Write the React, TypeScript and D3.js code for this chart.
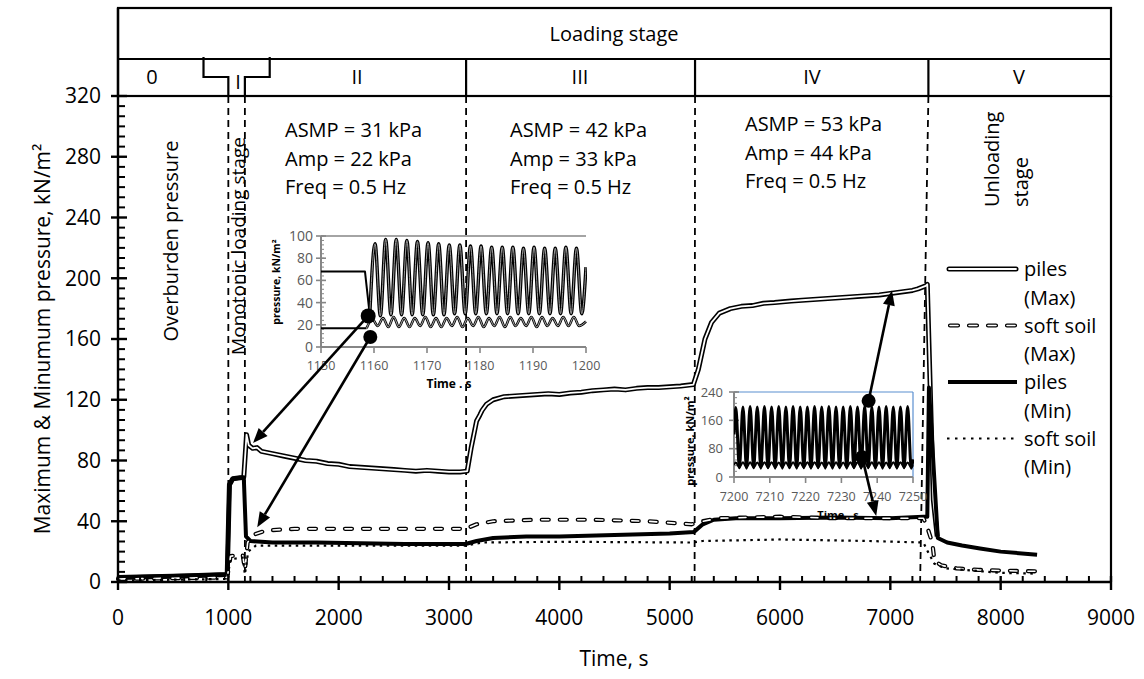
import React from "react";
import * as d3 from "d3";

type Pt = [number, number];

const FONT = "'Open Sans', 'Noto Sans', sans-serif";

// Main axes
const timeTicks = [0, 1000, 2000, 3000, 4000, 5000, 6000, 7000, 8000, 9000];
const pressureTicks = [0, 40, 80, 120, 160, 200, 240, 280, 320];

// Measured pressure histories: [time (s), pressure (kN/m²)]
const pilesMax: Pt[] = [
  [0, 3], [300, 3.5], [600, 4], [990, 5], [1010, 64], [1040, 68], [1140, 69], [1165, 97],
  [1185, 90], [1220, 88], [1260, 88.5], [1300, 86], [1400, 84.5], [1500, 83], [1600, 81.5],
  [1700, 80], [1800, 79.5], [1900, 78], [2000, 77.5], [2100, 76], [2200, 75.5], [2300, 75],
  [2400, 74.5], [2500, 74], [2600, 73.5], [2700, 73], [2800, 73.5], [2900, 73], [3000, 72.5],
  [3100, 72.5], [3165, 73], [3200, 88], [3250, 106], [3280, 110], [3300, 113], [3340, 117],
  [3400, 120], [3500, 122], [3600, 122.5], [3700, 123], [3800, 123.5], [3900, 124],
  [4000, 123.5], [4100, 124.5], [4200, 125], [4300, 126], [4400, 126.5], [4500, 127],
  [4600, 126.5], [4700, 127.5], [4800, 128], [4900, 128], [5000, 128.5], [5100, 129],
  [5215, 130], [5260, 140], [5320, 160], [5380, 171], [5450, 177], [5550, 180], [5650, 181.5],
  [5750, 182], [5850, 183.5], [5950, 184], [6100, 185], [6200, 185.5], [6300, 186],
  [6400, 186.5], [6500, 187], [6600, 187.5], [6700, 188], [6800, 188.5], [6900, 189],
  [7000, 190], [7100, 191], [7200, 192], [7250, 193], [7320, 195], [7335, 196],
  [7390, 54], [7425, 30],
];
const softSoilMax: Pt[] = [
  [0, 2], [500, 2.5], [990, 3], [1020, 17], [1130, 18], [1150, 8], [1175, 26], [1220, 31],
  [1350, 34], [1600, 35], [2000, 35], [2500, 35], [3000, 35], [3150, 35], [3250, 38],
  [3400, 40], [3800, 41], [4300, 41], [4800, 40], [5200, 38], [5300, 40], [5450, 42],
  [6000, 43], [6500, 42], [7000, 42], [7300, 42], [7335, 36], [7380, 26], [7400, 14],
  [7460, 11], [7600, 9], [7800, 8], [8000, 7.5], [8330, 7],
];
const pilesMin: Pt[] = [
  [0, 3], [500, 4], [990, 5], [1010, 64], [1040, 68], [1140, 69], [1160, 30], [1200, 27],
  [1400, 26], [1800, 26], [2200, 25.5], [2600, 25], [3150, 25], [3250, 27], [3400, 29],
  [3700, 30], [4000, 30], [4500, 31], [5000, 32], [5220, 33], [5300, 38], [5400, 41],
  [5600, 42], [6000, 42], [6500, 42.5], [7000, 42], [7300, 43], [7335, 43], [7350, 128],
  [7430, 29], [7515, 26], [7650, 24], [7813, 22], [8000, 20], [8330, 18],
];
const softSoilMin: Pt[] = [
  [0, 1], [500, 1.5], [990, 2], [1020, 15], [1130, 16], [1150, 5], [1180, 20], [1250, 24],
  [2000, 24], [3150, 24], [3300, 26], [4000, 26.5], [5200, 26], [5300, 27], [6000, 28],
  [6800, 27], [7300, 26], [7340, 20], [7400, 12], [7500, 9], [8000, 6], [8330, 5.5],
];

// Test stages
const stageNames = ["0", "I", "II", "III", "IV", "V"];
const stageNameTimes = [308, 1088, 2166, 4187, 6290, 8166];
const stageDividers = [3155, 5230, 7345];
const guideTop = [1000, 1150, 3155, 5230, 7345];
const guideBottom = [1000, 1150, 3155, 5226, 7270];

const cyclicParams = [
  ["ASMP = 31 kPa", "Amp = 22 kPa", "Freq = 0.5 Hz"],
  ["ASMP = 42 kPa", "Amp = 33 kPa", "Freq = 0.5 Hz"],
  ["ASMP = 53 kPa", "Amp = 44 kPa", "Freq = 0.5 Hz"],
];

const legendItems = [
  ["piles", "(Max)"],
  ["soft soil", "(Max)"],
  ["piles", "(Min)"],
  ["soft soil", "(Min)"],
];

// Detail windows: cycles at 0.5 Hz
const FREQ = 0.5;
const PERIOD = 1 / FREQ;

const inset1Ticks = [1150, 1160, 1170, 1180, 1190, 1200];
const inset1PTicks = [0, 20, 40, 60, 80, 100];
const inset1PilesLead: Pt[] = [[1150, 68], [1158.3, 68], [1159.2, 29]];
const inset1PilesFirstPeak = 1160.2;
const inset1PilesPeaks = [93, 97, 97, 96, 95, 94, 93, 92, 92, 91, 91, 90, 90, 90, 89, 90, 89, 89, 90, 89];
const inset1PilesTroughs = [28, 29, 29, 29, 29, 29, 29, 30, 30, 30, 30, 30, 30, 30, 30, 30, 30, 30, 30, 30];
const inset1PilesEnd: Pt = [1200, 72];
const inset1SoilLead: Pt[] = [[1150, 17], [1158.6, 17]];
const inset1SoilFirstPeak = 1159.7;
const inset1SoilPeaks = [25, 26, 27, 26, 26, 27, 26, 26, 27, 26, 27, 26, 27, 27, 26, 27, 27, 26, 27, 27];
const inset1SoilTroughs = [19, 18, 18, 18, 19, 18, 18, 19, 18, 19, 18, 19, 18, 19, 19, 18, 19, 19, 19, 19];
const inset1SoilEnd: Pt = [1200, 23];

const inset2Ticks = [7200, 7210, 7220, 7230, 7240, 7250];
const inset2PTicks = [0, 80, 160, 240];
const inset2PilesStart: Pt = [7200, 120];
const inset2PilesFirstPeak = 7200.5;
const inset2PilesPeaks = [196, 198, 199, 198, 199, 198, 199, 198, 199, 198, 198, 199, 198, 199, 198, 198, 199, 198, 199, 198, 198, 199, 198, 198, 199];
const inset2PilesTroughs = [26, 25, 26, 25, 26, 25, 25, 26, 25, 26, 25, 26, 25, 25, 26, 25, 26, 25, 26, 25, 25, 26, 25, 26, 25];
const inset2PilesEnd: Pt = [7250, 50];
const inset2SoilStart: Pt = [7200, 34];
const inset2SoilFirstPeak = 7200.5;
const inset2SoilPeaks = [41, 42, 42, 41, 42, 42, 41, 42, 42, 41, 42, 42, 41, 42, 42, 41, 42, 42, 41, 42, 42, 41, 42, 42, 41];
const inset2SoilTroughs = [27, 26, 27, 27, 26, 27, 27, 26, 27, 27, 26, 27, 27, 26, 27, 27, 26, 27, 27, 26, 27, 27, 26, 27, 27];
const inset2SoilEnd: Pt = [7250, 33];

// Pointers: [inset time, inset pressure] -> [main time, main pressure]
const pointers1: [Pt, Pt][] = [
  [[1158.9, 28], [1224, 91.5]],
  [[1159.3, 9], [1262, 36]],
];
const pointers2: [Pt, Pt][] = [
  [[7237.6, 215], [7015, 192]],
  [[7235.8, 56], [6872, 43.5]],
];

function cycles(firstPeak: number, peaks: number[], troughs: number[]): Pt[] {
  const pts: Pt[] = [];
  peaks.forEach((p, i) => {
    pts.push([firstPeak + i * PERIOD, p]);
    if (i < troughs.length) pts.push([firstPeak + i * PERIOD + PERIOD / 2, troughs[i]]);
  });
  return pts;
}

function Arrow({ x1, y1, x2, y2 }: { x1: number; y1: number; x2: number; y2: number }) {
  const dx = x2 - x1;
  const dy = y2 - y1;
  const L = Math.hypot(dx, dy);
  const ux = dx / L;
  const uy = dy / L;
  const hl = 15;
  const hw = 6;
  const bx = x2 - ux * hl;
  const by = y2 - uy * hl;
  const px = -uy;
  const py = ux;
  return (
    <g>
      <line x1={x1} y1={y1} x2={bx} y2={by} stroke="#000" strokeWidth={2.6} />
      <path d={`M${x2},${y2}L${bx + px * hw},${by + py * hw}L${bx - px * hw},${by - py * hw}Z`} fill="#000" />
    </g>
  );
}

export default function App() {
  const x = d3.scaleLinear().domain([0, 9000]).range([118, 1111]);
  const y = d3.scaleLinear().domain([0, 320]).range([582, 96]);
  const line = d3.line<Pt>().x((d) => x(d[0])).y((d) => y(d[1]));

  const xMinor = d3.range(0, 9001, 200).filter((t) => t % 1000 !== 0);
  const yMinor = d3.range(0, 321, 40 / 6).filter((_, i) => i % 6 !== 0);

  // inset 1 scales
  const x1 = d3.scaleLinear().domain([1150, 1200]).range([321, 586]);
  const y1 = d3.scaleLinear().domain([0, 100]).range([347, 236]);
  const wave1 = d3.line<Pt>().x((d) => x1(d[0])).y((d) => y1(d[1])).curve(d3.curveMonotoneX);
  const flat1 = d3.line<Pt>().x((d) => x1(d[0])).y((d) => y1(d[1]));
  const piles1Cyc = [inset1PilesLead[2], ...cycles(inset1PilesFirstPeak, inset1PilesPeaks, inset1PilesTroughs), inset1PilesEnd];
  const soil1Cyc = [inset1SoilLead[1], ...cycles(inset1SoilFirstPeak, inset1SoilPeaks, inset1SoilTroughs), inset1SoilEnd];

  // inset 2 scales
  const x2 = d3.scaleLinear().domain([7200, 7250]).range([734, 913]);
  const y2 = d3.scaleLinear().domain([0, 240]).range([477, 392]);
  const wave2 = d3.line<Pt>().x((d) => x2(d[0])).y((d) => y2(d[1])).curve(d3.curveMonotoneX);
  const piles2 = [inset2PilesStart, ...cycles(inset2PilesFirstPeak, inset2PilesPeaks, inset2PilesTroughs), inset2PilesEnd];
  const soil2 = [inset2SoilStart, ...cycles(inset2SoilFirstPeak, inset2SoilPeaks, inset2SoilTroughs), inset2SoilEnd];

  const axisGray = "#868686";
  const labelGray = "#595959";

  return (
    <svg width={1144} height={679} style={{ position: "absolute", left: 0, top: 0, background: "#fff" }} fontFamily={FONT}>
      <defs>
        <clipPath id="in1"><rect x={321} y={226} width={266} height={124} /></clipPath>
        <clipPath id="in2"><rect x={734} y={386} width={180} height={92} /></clipPath>
      </defs>
      <rect x={0} y={0} width={1144} height={679} fill="#fff" />

      {/* header */}
      <rect x={118} y={8} width={993} height={88} fill="none" stroke="#000" strokeWidth={2.2} />
      <line x1={118} x2={1111} y1={59} y2={59} stroke="#000" strokeWidth={2.2} />
      <text x={614} y={41} fontSize={20} textAnchor="middle">Loading stage</text>
      <path d={`M${x(775)},57V77H${x(1000)}V96M${x(1150)},96V77H${x(1375)}V57`} fill="none" stroke="#000" strokeWidth={2.2} />
      {stageDividers.map((t) => (
        <line key={t} x1={x(t)} x2={x(t)} y1={59} y2={96} stroke="#000" strokeWidth={2.2} />
      ))}
      {stageNames.map((s, i) => (
        <text key={s} x={x(stageNameTimes[i])} y={i === 1 ? 89 : 84} fontSize={20} textAnchor="middle">{s}</text>
      ))}

      {/* stage guides */}
      {guideTop.map((t, i) => (
        <line key={t} x1={x(t)} x2={x(guideBottom[i])} y1={96} y2={582} stroke="#000" strokeWidth={1.8} strokeDasharray="7 5" />
      ))}

      {/* frame */}
      <line x1={1111} x2={1111} y1={96} y2={582} stroke="#000" strokeWidth={2.2} />

      {/* stage notes */}
      <text x={170} y={241} fontSize={20} textAnchor="middle" dominantBaseline="central" transform="rotate(-90 170 241)">Overburden pressure</text>
      <text x={238} y={246} fontSize={19} textAnchor="middle" dominantBaseline="central" transform="rotate(-90 238 246)">Monotonic loading stage</text>
      <text x={991} y={207} fontSize={20} dominantBaseline="central" transform="rotate(-90 991 207)">Unloading</text>
      <text x={1020} y={207} fontSize={20} dominantBaseline="central" transform="rotate(-90 1020 207)">stage</text>
      {cyclicParams.map((lines, i) => {
        const xs = [285, 510, 745][i];
        const yb = [137, 137, 131][i];
        return lines.map((l, j) => (
          <text key={`${i}-${j}`} x={xs} y={yb + j * 28.7} fontSize={20}>{l}</text>
        ));
      })}

      {/* series */}
      <path d={line(pilesMax)!} fill="none" stroke="#000" strokeWidth={5} strokeLinejoin="round" />
      <path d={line(pilesMax)!} fill="none" stroke="#fff" strokeWidth={1.8} strokeLinejoin="round" />
      <path d={line(pilesMin)!} fill="none" stroke="#000" strokeWidth={4} strokeLinejoin="round" />
      <path d={line(softSoilMax)!} fill="none" stroke="#000" strokeWidth={4.2} strokeDasharray="7 11" strokeLinecap="round" strokeLinejoin="round" />
      <path d={line(softSoilMax)!} fill="none" stroke="#fff" strokeWidth={1.6} strokeDasharray="7 11" strokeLinecap="round" strokeLinejoin="round" />
      <path d={line(softSoilMin)!} fill="none" stroke="#000" strokeWidth={2.2} strokeDasharray="2.5 4.5" />

      {/* axes */}
      <line x1={118} x2={118} y1={8} y2={582} stroke="#000" strokeWidth={2.4} />
      <line x1={118} x2={1111} y1={582} y2={582} stroke="#000" strokeWidth={2.4} />
      {pressureTicks.map((v) => (
        <g key={v}>
          <line x1={111} x2={127} y1={y(v)} y2={y(v)} stroke="#000" strokeWidth={2.4} />
          <text x={101} y={y(v)} dy="0.35em" fontSize={21} textAnchor="end">{v}</text>
        </g>
      ))}
      {yMinor.map((v) => (
        <line key={v} x1={118} x2={125} y1={y(v)} y2={y(v)} stroke="#000" strokeWidth={2} />
      ))}
      {timeTicks.map((t) => (
        <g key={t}>
          <line x1={x(t)} x2={x(t)} y1={576} y2={590} stroke="#000" strokeWidth={2.4} />
          <text x={x(t)} y={625} fontSize={21} textAnchor="middle">{t}</text>
        </g>
      ))}
      {xMinor.map((t) => (
        <line key={t} x1={x(t)} x2={x(t)} y1={576} y2={582} stroke="#000" strokeWidth={2} />
      ))}
      <text x={614} y={666} fontSize={21} textAnchor="middle">Time, s</text>
      <text x={42} y={339} fontSize={21} textAnchor="middle" dominantBaseline="central" transform="rotate(-90 42 339)">
        Maximum &amp; Minumum pressure, kN/m²
      </text>

      {/* inset 1 */}
      <line x1={321} x2={586} y1={236} y2={236} stroke={axisGray} strokeWidth={1.6} />
      <line x1={321} x2={321} y1={236} y2={347} stroke={axisGray} strokeWidth={2} />
      <line x1={321} x2={586} y1={347} y2={347} stroke={axisGray} strokeWidth={2} />
      {d3.range(0, 101, 4).map((v) => (
        <line key={v} x1={321} x2={324} y1={y1(v)} y2={y1(v)} stroke={axisGray} strokeWidth={1} />
      ))}
      {inset1PTicks.map((v) => (
        <g key={v}>
          <line x1={316} x2={326} y1={y1(v)} y2={y1(v)} stroke={axisGray} strokeWidth={1.6} />
          <text x={313} y={y1(v)} dy="0.35em" fontSize={14} textAnchor="end" fill={labelGray}>{v}</text>
        </g>
      ))}
      {inset1Ticks.map((t) => (
        <g key={t}>
          <line x1={x1(t)} x2={x1(t)} y1={347} y2={353} stroke={axisGray} strokeWidth={1.6} />
          <text x={x1(t)} y={370} fontSize={12.5} textAnchor="middle" fill={labelGray}>{t}</text>
        </g>
      ))}
      <text x={276} y={282} fontSize={10.5} fontWeight="bold" textAnchor="middle" dominantBaseline="central" transform="rotate(-90 276 282)">pressure, kN/m²</text>
      <text x={449} y={388} fontSize={12} fontWeight="bold" textAnchor="middle">Time . s</text>
      <g clipPath="url(#in1)">
        <path d={flat1(inset1PilesLead)!} fill="none" stroke="#000" strokeWidth={2} strokeLinejoin="round" />
        <path d={flat1(inset1SoilLead)!} fill="none" stroke="#000" strokeWidth={2} />
        <path d={wave1(piles1Cyc)!} fill="none" stroke="#000" strokeWidth={3.4} strokeLinejoin="round" />
        <path d={wave1(piles1Cyc)!} fill="none" stroke="#9a9a9a" strokeWidth={1} strokeLinejoin="round" />
        <path d={wave1(soil1Cyc)!} fill="none" stroke="#000" strokeWidth={2.6} strokeLinejoin="round" />
        <path d={wave1(soil1Cyc)!} fill="none" stroke="#fff" strokeWidth={0.7} strokeLinejoin="round" />
      </g>

      {/* inset 2 */}
      <line x1={734} x2={913} y1={392} y2={392} stroke="#5b8fd0" strokeWidth={1.2} />
      <line x1={913} x2={913} y1={392} y2={477} stroke="#5b8fd0" strokeWidth={1.2} />
      <line x1={734} x2={734} y1={392} y2={477} stroke={axisGray} strokeWidth={2} />
      <line x1={734} x2={913} y1={477} y2={477} stroke={axisGray} strokeWidth={2} />
      {d3.range(0, 241, 16).map((v) => (
        <line key={v} x1={734} x2={737} y1={y2(v)} y2={y2(v)} stroke={axisGray} strokeWidth={1} />
      ))}
      {inset2PTicks.map((v) => (
        <g key={v}>
          <line x1={729} x2={739} y1={y2(v)} y2={y2(v)} stroke={axisGray} strokeWidth={1.6} />
          <text x={723} y={y2(v)} dy="0.35em" fontSize={13} textAnchor="end" fill={labelGray}>{v}</text>
        </g>
      ))}
      {inset2Ticks.map((t) => (
        <g key={t}>
          <line x1={x2(t)} x2={x2(t)} y1={477} y2={483} stroke={axisGray} strokeWidth={1.6} />
          <text x={x2(t)} y={501} fontSize={12.5} textAnchor="middle" fill={labelGray}>{t}</text>
        </g>
      ))}
      <text x={689} y={441} fontSize={11} fontWeight="bold" textAnchor="middle" dominantBaseline="central" transform="rotate(-90 689 441)">pressure, kN/m²</text>
      <text x={838} y={519} fontSize={11} fontWeight="bold" textAnchor="middle">Time . s</text>
      <g clipPath="url(#in2)">
        <path d={wave2(piles2)!} fill="none" stroke="#000" strokeWidth={3} strokeLinejoin="round" />
        <path d={wave2(soil2)!} fill="none" stroke="#000" strokeWidth={2} strokeLinejoin="round" />
      </g>

      {/* pointers */}
      {pointers1.map(([a, b], i) => (
        <g key={`p1-${i}`}>
          <Arrow x1={x1(a[0])} y1={y1(a[1])} x2={x(b[0])} y2={y(b[1])} />
          <circle cx={x1(a[0])} cy={y1(a[1])} r={i === 0 ? 7.5 : 7} fill="#000" />
        </g>
      ))}
      {pointers2.map(([a, b], i) => (
        <g key={`p2-${i}`}>
          <Arrow x1={x2(a[0])} y1={y2(a[1])} x2={x(b[0])} y2={y(b[1])} />
          <circle cx={x2(a[0])} cy={y2(a[1])} r={7} fill="#000" />
        </g>
      ))}

      {/* legend */}
      {legendItems.map(([a, b], i) => {
        const ly = 269 + i * 56.5;
        return (
          <g key={i}>
            {i === 0 && (
              <>
                <line x1={949} x2={1016} y1={ly} y2={ly} stroke="#000" strokeWidth={5} strokeLinecap="round" />
                <line x1={949} x2={1016} y1={ly} y2={ly} stroke="#fff" strokeWidth={1.8} strokeLinecap="round" />
              </>
            )}
            {i === 1 && (
              <>
                <line x1={950} x2={1016} y1={ly} y2={ly} stroke="#000" strokeWidth={4.2} strokeDasharray="8 11" strokeLinecap="round" />
                <line x1={950} x2={1016} y1={ly} y2={ly} stroke="#fff" strokeWidth={1.6} strokeDasharray="8 11" strokeLinecap="round" />
              </>
            )}
            {i === 2 && <line x1={948} x2={1017} y1={ly} y2={ly} stroke="#000" strokeWidth={4} />}
            {i === 3 && <line x1={947} x2={1016} y1={ly} y2={ly} stroke="#000" strokeWidth={2.2} strokeDasharray="2.5 5.5" />}
            <text x={1024} y={ly} dy="0.35em" fontSize={20}>{a}</text>
            <text x={1024} y={ly + 28.5} dy="0.35em" fontSize={20}>{b}</text>
          </g>
        );
      })}
    </svg>
  );
}
